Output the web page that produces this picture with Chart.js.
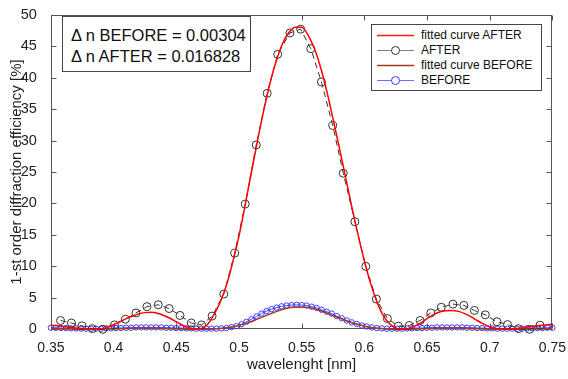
<!DOCTYPE html>
<html>
<head>
<meta charset="utf-8">
<script src="https://cdn.jsdelivr.net/npm/chart.js@4.4.1/dist/chart.umd.min.js"></script>
<style>
  body { margin: 0; background: #fff; }
  #wrap { position: relative; width: 568px; height: 379px; font-family: "Liberation Sans", Arial, Helvetica, sans-serif; }
  #note {
    position: absolute; left: 62px; top: 16px; width: 189px; height: 56px;
    border: 1px solid #444; background: #fff; box-sizing: border-box;
    padding: 8px 0 0 8px; font-size: 16.5px; line-height: 21px; color: #111;
  }
  #legend {
    position: absolute; left: 371px; top: 24px; width: 171px; height: 67px;
    border: 1px solid #444; background: #fff; box-sizing: border-box;
    padding-top: 3px; font-size: 12px; color: #111;
  }
  .row { position: relative; height: 15px; line-height: 15px; padding-left: 49px; white-space: nowrap; }
  .row svg { position: absolute; left: 4px; top: 0; }
</style>
</head>
<body>
<div id="wrap">
  <canvas id="chart" width="568" height="379"></canvas>
  <div id="note">&Delta; n BEFORE = 0.00304<br>&Delta; n AFTER = 0.016828</div>
  <div id="legend"></div>
</div>
<script>
// measured points after exposure
const afterWavelength = [0.3577, 0.3664, 0.3748, 0.3830, 0.3915, 0.4007, 0.4094, 0.4179, 0.4266, 0.4356,
  0.4443, 0.4530, 0.4620, 0.4702, 0.4786, 0.4879, 0.4966, 0.5050, 0.5138, 0.5225,
  0.5309, 0.5407, 0.5492, 0.5573, 0.5658, 0.5748, 0.5832, 0.5925, 0.6012, 0.6096,
  0.6184, 0.6271, 0.6358, 0.6445, 0.6530, 0.6614, 0.6707, 0.6794, 0.6878, 0.6965,
  0.7058, 0.7142, 0.7230, 0.7317, 0.7401];
const afterEfficiency = [1.4, 1.0, 0.55, 0.1, 0.0, 0.7, 1.6, 2.6, 3.6, 3.9,
  3.3, 2.2, 1.0, 0.7, 2.1, 5.6, 12.1, 19.9, 29.3, 37.5,
  43.7, 47.1, 47.7, 44.6, 39.3, 32.4, 24.8, 17.1, 10.0, 4.8,
  1.7, 0.5, 0.6, 1.4, 2.6, 3.5, 4.0, 3.8, 3.0, 2.3,
  1.2, 0.75, 0.1, 0.0, 0.65];

// measured points before exposure
const beforeWavelength = [0.350, 0.354, 0.358, 0.362, 0.366, 0.370, 0.374, 0.378, 0.382, 0.386,
  0.390, 0.394, 0.398, 0.402, 0.406, 0.410, 0.414, 0.418, 0.422, 0.426,
  0.430, 0.434, 0.438, 0.442, 0.446, 0.450, 0.454, 0.458, 0.462, 0.466,
  0.470, 0.474, 0.478, 0.482, 0.486, 0.490, 0.494, 0.498, 0.502, 0.506,
  0.510, 0.514, 0.518, 0.522, 0.526, 0.530, 0.534, 0.538, 0.542, 0.546,
  0.550, 0.554, 0.558, 0.562, 0.566, 0.570, 0.574, 0.578, 0.582, 0.586,
  0.590, 0.594, 0.598, 0.602, 0.606, 0.610, 0.614, 0.618, 0.622, 0.626,
  0.630, 0.634, 0.638, 0.642, 0.646, 0.650, 0.654, 0.658, 0.662, 0.666,
  0.670, 0.674, 0.678, 0.682, 0.686, 0.690, 0.694, 0.698, 0.702, 0.706,
  0.710, 0.714, 0.718, 0.722, 0.726, 0.730, 0.734, 0.738, 0.742, 0.746,
  0.750];
const beforeEfficiency = [0.25, 0.25, 0.2, 0.2, 0.15, 0.15, 0.1, 0.1, 0.1, 0.1,
  0.1, 0.15, 0.15, 0.2, 0.2, 0.25, 0.25, 0.3, 0.3, 0.3,
  0.3, 0.3, 0.3, 0.25, 0.25, 0.2, 0.2, 0.15, 0.15, 0.1,
  0.1, 0.1, 0.1, 0.1, 0.15, 0.2, 0.35, 0.5, 0.8, 1.2,
  1.6, 2.05, 2.5, 2.9, 3.2, 3.45, 3.65, 3.78, 3.85, 3.88,
  3.85, 3.78, 3.6, 3.4, 3.1, 2.8, 2.5, 2.1, 1.75, 1.4,
  1.1, 0.85, 0.6, 0.45, 0.3, 0.2, 0.15, 0.1, 0.1, 0.1,
  0.1, 0.15, 0.15, 0.2, 0.2, 0.25, 0.25, 0.3, 0.3, 0.3,
  0.3, 0.3, 0.3, 0.25, 0.25, 0.2, 0.2, 0.15, 0.15, 0.1,
  0.1, 0.1, 0.1, 0.1, 0.1, 0.15, 0.15, 0.2, 0.2, 0.25,
  0.25];

// fitted curves, both sampled on the same wavelengths
const fitWavelength = [0.350, 0.355, 0.360, 0.365, 0.370, 0.375, 0.380, 0.385, 0.390, 0.395,
  0.400, 0.405, 0.410, 0.415, 0.420, 0.425, 0.430, 0.435, 0.440, 0.445,
  0.450, 0.455, 0.460, 0.465, 0.470, 0.475, 0.480, 0.485, 0.490, 0.495,
  0.500, 0.505, 0.510, 0.515, 0.520, 0.525, 0.530, 0.535, 0.540, 0.545,
  0.550, 0.555, 0.560, 0.565, 0.570, 0.575, 0.580, 0.585, 0.590, 0.595,
  0.600, 0.605, 0.610, 0.615, 0.620, 0.625, 0.630, 0.635, 0.640, 0.645,
  0.650, 0.655, 0.660, 0.665, 0.670, 0.675, 0.680, 0.685, 0.690, 0.695,
  0.700, 0.705, 0.710, 0.715, 0.720, 0.725, 0.730, 0.735, 0.740, 0.745,
  0.750];
const fitAfter = [0.65, 0.55, 0.45, 0.33, 0.22, 0.12, 0.05, 0.02, 0.1, 0.35,
  0.75, 1.2, 1.7, 2.1, 2.45, 2.65, 2.7, 2.55, 2.2, 1.75,
  1.2, 0.65, 0.25, 0.03, 0.15, 0.8, 2.3, 4.3, 7.0, 10.6,
  14.8, 19.8, 25.0, 30.2, 35.0, 39.3, 42.8, 45.5, 47.2, 48.0,
  48.0, 46.8, 44.7, 41.7, 37.9, 33.5, 28.9, 24.2, 19.5, 15.0,
  10.9, 7.3, 4.4, 2.2, 0.9, 0.2, 0.0, 0.1, 0.5, 1.0,
  1.7, 2.3, 2.75, 2.95, 3.0, 2.85, 2.5, 2.0, 1.4, 0.85,
  0.4, 0.12, 0.0, 0.02, 0.1, 0.2, 0.35, 0.5, 0.6, 0.7,
  0.8];
const fitBefore = [0.05, 0.05, 0.04, 0.03, 0.02, 0.01, 0.0, 0.0, 0.01, 0.03,
  0.06, 0.1, 0.13, 0.16, 0.18, 0.19, 0.19, 0.17, 0.14, 0.1,
  0.06, 0.03, 0.01, 0.0, 0.0, 0.02, 0.06, 0.13, 0.24, 0.4,
  0.62, 0.9, 1.25, 1.65, 2.05, 2.45, 2.85, 3.2, 3.42, 3.55,
  3.55, 3.45, 3.25, 2.95, 2.6, 2.2, 1.8, 1.4, 1.05, 0.75,
  0.5, 0.3, 0.17, 0.08, 0.03, 0.0, 0.0, 0.01, 0.03, 0.07,
  0.11, 0.15, 0.18, 0.2, 0.2, 0.19, 0.17, 0.13, 0.09, 0.05,
  0.02, 0.01, 0.0, 0.0, 0.01, 0.02, 0.03, 0.04, 0.05, 0.05,
  0.05];

const xTicks = [0.35, 0.4, 0.45, 0.5, 0.55, 0.6, 0.65, 0.7, 0.75];
const yTicks = [0, 5, 10, 15, 20, 25, 30, 35, 40, 45, 50];

const FONT = '"Liberation Sans", Arial, Helvetica, sans-serif';

function pts(xs, ys) {
  return xs.map((x, i) => ({ x: x, y: ys[i] }));
}

// matlab style box with inward ticks on all four sides
const axesBox = {
  id: "axesBox",
  beforeDatasetsDraw(chart) {
    const { ctx, chartArea: a, scales } = chart;
    const L = Math.round(a.left) + 0.5, R = Math.round(a.right) - 0.5;
    const T = Math.round(a.top) + 0.5, B = Math.round(a.bottom) - 0.5;
    ctx.save();
    ctx.strokeStyle = "#555";
    ctx.lineWidth = 1;
    ctx.strokeRect(L, T, R - L, B - T);
    ctx.beginPath();
    xTicks.forEach(v => {
      const px = Math.round(scales.x.getPixelForValue(v)) + 0.5;
      ctx.moveTo(px, B); ctx.lineTo(px, B - 5);
      ctx.moveTo(px, T); ctx.lineTo(px, T + 5);
    });
    yTicks.forEach(v => {
      const py = Math.round(scales.y.getPixelForValue(v)) + 0.5;
      ctx.moveTo(L, py); ctx.lineTo(L + 5, py);
      ctx.moveTo(R, py); ctx.lineTo(R - 5, py);
    });
    ctx.stroke();
    ctx.restore();
  }
};

const datasets = [
  {
    label: "fitted curve AFTER",
    data: pts(fitWavelength, fitAfter),
    borderColor: "#ff0000", borderWidth: 1.5,
    pointRadius: 0, cubicInterpolationMode: "monotone"
  },
  {
    label: "AFTER",
    data: pts(afterWavelength, afterEfficiency),
    borderColor: "#333", borderWidth: 1, borderDash: [6, 4],
    pointRadius: 4, pointBorderColor: "#333", pointBorderWidth: 1,
    pointBackgroundColor: "rgba(0,0,0,0)"
  },
  {
    label: "fitted curve BEFORE",
    data: pts(fitWavelength, fitBefore),
    borderColor: "#a33a22", borderWidth: 1.5,
    pointRadius: 0, cubicInterpolationMode: "monotone"
  },
  {
    label: "BEFORE",
    data: pts(beforeWavelength, beforeEfficiency),
    borderColor: "#3a3aff", borderWidth: 1,
    pointRadius: 2.7, pointBorderColor: "#3a3aff", pointBorderWidth: 1,
    pointBackgroundColor: "rgba(0,0,0,0)"
  }
];

// legend samples: line colour, marker colour (or null)
const legendLine = ["#ff1a1a", "#808080", "#a33a22", "#6b6bff"];
const legendMarker = [null, "#333", null, "#3a3aff"];

const ctx = document.getElementById("chart").getContext("2d");
const chart = new Chart(ctx, {
  type: "scatter",
  data: { datasets: datasets.map(d => Object.assign({ showLine: true, clip: false, tension: 0 }, d)) },
  options: {
    responsive: false,
    animation: false,
    devicePixelRatio: 1,
    layout: { autoPadding: false, padding: { left: 0, right: 12.3, top: 10, bottom: 0 } },
    plugins: { legend: { display: false }, tooltip: { enabled: false } },
    scales: {
      x: {
        type: "linear", min: 0.35, max: 0.75,
        afterBuildTicks: s => { s.ticks = xTicks.map(v => ({ value: v })); },
        afterFit: s => { s.height = 49.7; },
        grid: { display: false }, border: { display: false },
        ticks: { padding: 2, color: "#222", font: { family: FONT, size: 14 }, maxRotation: 0, callback: v => String(v) },
        title: { display: true, text: "wavelenght [nm]", color: "#222", padding: 5, font: { family: FONT, size: 15 } }
      },
      y: {
        type: "linear", min: 0, max: 50,
        afterBuildTicks: s => { s.ticks = yTicks.map(v => ({ value: v })); },
        afterFit: s => { s.width = 50.9; },
        grid: { display: false }, border: { display: false },
        ticks: { padding: 6, color: "#222", font: { family: FONT, size: 14.5 }, callback: v => String(v) },
        title: { display: true, text: "1-st order diffraction efficiency [%]", color: "#222", padding: 8, font: { family: FONT, size: 15 } }
      }
    }
  },
  plugins: [axesBox]
});

// legend in the matlab look: line sample with optional marker, drawn as small svg
const SVG = "http://www.w3.org/2000/svg";
const legend = document.getElementById("legend");
datasets.forEach((d, i) => {
  const row = document.createElement("div");
  row.className = "row";
  const svg = document.createElementNS(SVG, "svg");
  svg.setAttribute("width", "40");
  svg.setAttribute("height", "15");
  const ln = document.createElementNS(SVG, "line");
  ln.setAttribute("x1", "1"); ln.setAttribute("x2", "38");
  ln.setAttribute("y1", "7.5"); ln.setAttribute("y2", "7.5");
  ln.setAttribute("stroke", legendLine[i]);
  ln.setAttribute("stroke-width", legendMarker[i] ? "1" : "1.5");
  svg.appendChild(ln);
  if (legendMarker[i]) {
    const mk = document.createElementNS(SVG, "circle");
    mk.setAttribute("cx", "19.5"); mk.setAttribute("cy", "7.5"); mk.setAttribute("r", "4");
    mk.setAttribute("fill", "#fff");
    mk.setAttribute("stroke", legendMarker[i]);
    mk.setAttribute("stroke-width", "1");
    svg.appendChild(mk);
  }
  row.appendChild(svg);
  row.appendChild(document.createTextNode(d.label));
  legend.appendChild(row);
});
</script>
</body>
</html>
